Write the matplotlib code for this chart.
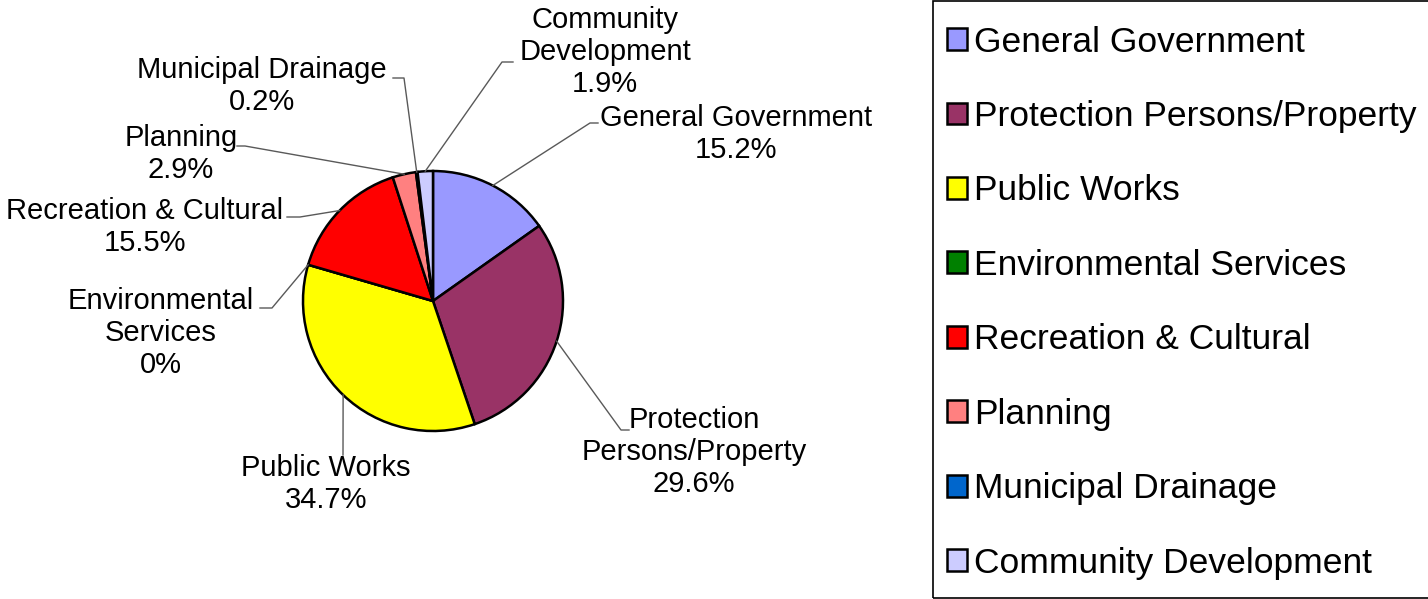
import numpy as np
import matplotlib
matplotlib.use('Agg')
import matplotlib.pyplot as plt
from matplotlib.patches import Rectangle

plt.rcParams['font.family'] = ['Liberation Sans', 'DejaVu Sans']

# data
categories = ['General Government', 'Protection Persons/Property', 'Public Works',
              'Environmental Services', 'Recreation & Cultural', 'Planning',
              'Municipal Drainage', 'Community Development']
shares = [15.2, 29.6, 34.7, 0.0, 15.5, 2.9, 0.2, 1.9]
pct_labels = ['15.2%', '29.6%', '34.7%', '0%', '15.5%', '2.9%', '0.2%', '1.9%']
slice_labels = ['General Government', 'Protection\nPersons/Property', 'Public Works',
                'Environmental\nServices', 'Recreation & Cultural', 'Planning',
                'Municipal Drainage', 'Community\nDevelopment']
colors = ['#9999FF', '#993366', '#FFFF00', '#008000', '#FF0000', '#FF8080',
          '#0066CC', '#CCCCFF']

W, H = 1428, 599
fig = plt.figure(figsize=(W / 100, H / 100), dpi=100)
ax = fig.add_axes([0, 0, 1, 1])

def Y(y):
    # top-based pixel -> axes data
    return H - y

cx, cy, r = 433, Y(301), 130
wedges, _ = ax.pie(shares, colors=colors, startangle=90, counterclock=False,
                   center=(cx, cy), radius=r,
                   wedgeprops=dict(edgecolor='black', linewidth=1.8))
ax.set_xlim(0, W)
ax.set_ylim(0, H)
ax.set_aspect('auto')
ax.axis('off')

# label layout: text centre, elbow point, end of short horizontal (top-based px)
text_pos = [(736, 134), (694, 452), (326, 484), (161, 333),
            (145, 227), (181, 154), (262, 86), (605, 52)]
elbows = [(590, 123), (621, 430), (343, 455), (272, 308),
          (300, 217), (245, 146), (404, 78), (502, 62)]
ends = [(598, 123), (629, 430), (343, 455), (260, 308),
        (287, 217), (237, 146), (393, 78), (513, 62)]

for w, lab, pct, tp, el, en in zip(wedges, slice_labels, pct_labels, text_pos, elbows, ends):
    ang = np.deg2rad((w.theta1 + w.theta2) / 2)
    x0 = cx + r * np.cos(ang)
    y0 = cy + r * np.sin(ang)
    ax.plot([x0, el[0], en[0]], [y0, Y(el[1]), Y(en[1])], color='#595959', lw=1)
    ax.text(tp[0], Y(tp[1]), lab + '\n' + pct, ha='center', va='center',
            fontsize=21, color='black')

# legend frame
fig.patches.append(Rectangle((932.5, 1), 600, 597, transform=None, fill=False,
                             edgecolor='black', lw=1.2))

fig.legend(wedges, categories, loc='upper left',
           bbox_to_anchor=(947 / W, 1 - 25.5 / H), bbox_transform=fig.transFigure,
           frameon=False, fontsize=25.5, handlelength=0.57, handleheight=0.57,
           handletextpad=0.2, labelspacing=1.17, borderpad=0, borderaxespad=0)

fig.savefig('out.png', dpi=100)
